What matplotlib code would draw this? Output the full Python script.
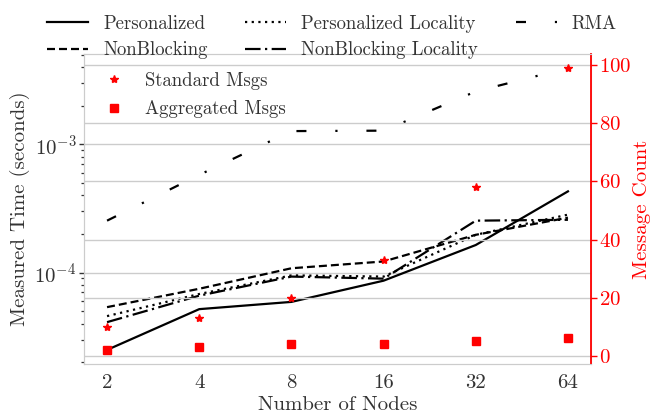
import matplotlib
matplotlib.use("Agg")
import matplotlib.pyplot as plt

plt.rcParams['font.family'] = ['cmr10', 'DejaVu Serif']
plt.rcParams['mathtext.fontset'] = 'cm'
plt.rcParams['axes.formatter.use_mathtext'] = True
plt.rcParams['axes.unicode_minus'] = False

nodes = [2, 4, 8, 16, 32, 64]
node_labels = ['2', '4', '8', '16', '32', '64']

personalized = [2.49e-5, 5.18e-5, 5.9e-5, 8.64e-5, 1.64e-4, 4.3e-4]
nonblocking = [5.37e-5, 7.47e-5, 1.08e-4, 1.22e-4, 1.97e-4, 2.68e-4]
personalized_locality = [4.57e-5, 6.8e-5, 9.5e-5, 9.3e-5, 1.97e-4, 2.83e-4]
nonblocking_locality = [4.1e-5, 6.6e-5, 9.3e-5, 8.96e-5, 2.54e-4, 2.58e-4]
rma = [2.54e-4, 5.78e-4, 1.27e-3, 1.28e-3, 2.59e-3, 3.94e-3]

standard_msgs = [10, 13, 20, 33, 58, 99]
aggregated_msgs = [2, 3, 4, 4, 5, 6]

text_color = '#333333'
grid_color = '#cccccc'
fs = 15
lfs = 13.5

fig = plt.figure(figsize=(6.52, 4.19), dpi=100)
ax = fig.add_axes([84/652, 55/419, (591-84)/652, (364-54)/419])

lw = 1.6
l1, = ax.plot(nodes, personalized, color='black', lw=lw, ls='-', label='Personalized')
l2, = ax.plot(nodes, nonblocking, color='black', lw=lw, ls=(0, (3.6, 1.8)), label='NonBlocking')
l3, = ax.plot(nodes, personalized_locality, color='black', lw=lw, ls=(0, (1, 2)), label='Personalized Locality')
l4, = ax.plot(nodes, nonblocking_locality, color='black', lw=lw, ls=(0, (7, 2, 1, 2)), label='NonBlocking Locality')
l5, = ax.plot(nodes, rma, color='black', lw=lw, ls=(0, (4.5, 13, 1, 13)), label='RMA')

ax.set_xscale('log', base=2)
ax.set_yscale('log')
ax.set_xticks(nodes)
ax.set_xticklabels(node_labels)
ax.minorticks_on()
ax.xaxis.set_minor_locator(matplotlib.ticker.NullLocator())
ax.set_xlabel('Number of Nodes', fontsize=fs, color=text_color, labelpad=3)
ax.set_ylabel('Measured Time (seconds)', fontsize=fs, color=text_color, labelpad=3)
ax.tick_params(axis='x', length=0, labelsize=fs, labelcolor=text_color, pad=7)
ax.tick_params(axis='y', which='major', length=3.5, width=1, color=text_color, labelsize=fs,
               labelcolor=text_color, pad=2)
ax.tick_params(axis='y', which='minor', length=2.2, width=0.9, color=text_color)
ax.grid(True, which='major', axis='y', color=grid_color, lw=1)
ax.grid(False, which='minor')
ax.xaxis.grid(False)
for s in ax.spines.values():
    s.set_color(grid_color)

ax2 = ax.twinx()
ax2.plot(nodes, standard_msgs, ls='none', marker='*', color='red', ms=6, label='Standard Msgs')
ax2.plot(nodes, aggregated_msgs, ls='none', marker='s', color='red', ms=6, label='Aggregated Msgs')
ax2.set_ylabel('Message Count', fontsize=fs, color='red', labelpad=1)
ax2.set_yticks([0, 20, 40, 60, 80, 100])
ax2.tick_params(axis='y', colors='red', labelsize=fs, length=4, width=1, pad=2)
ax2.grid(True, axis='y', color=grid_color, lw=1)
ax2.xaxis.grid(False)
ax2.spines['right'].set_color('red')
ax2.spines['right'].set_linewidth(1.3)
for k in ['left', 'top', 'bottom']:
    ax2.spines[k].set_color(grid_color)
ax2.set_zorder(ax.get_zorder() + 1)
ax2.patch.set_visible(False)

leg2 = ax2.legend(loc='upper left', frameon=False, fontsize=lfs, handlelength=1.3,
                  handletextpad=1.0, labelcolor=text_color, borderaxespad=0.55,
                  labelspacing=0.55)

fig.legend(handles=[l1, l2, l3, l4, l5], loc='upper left', bbox_to_anchor=(30/652, 1.005),
           ncol=3, frameon=False, fontsize=lfs, handlelength=2.2, handletextpad=0.8,
           columnspacing=2.0, labelspacing=0.45, labelcolor=text_color)

fig.savefig('out.png', dpi=100)
